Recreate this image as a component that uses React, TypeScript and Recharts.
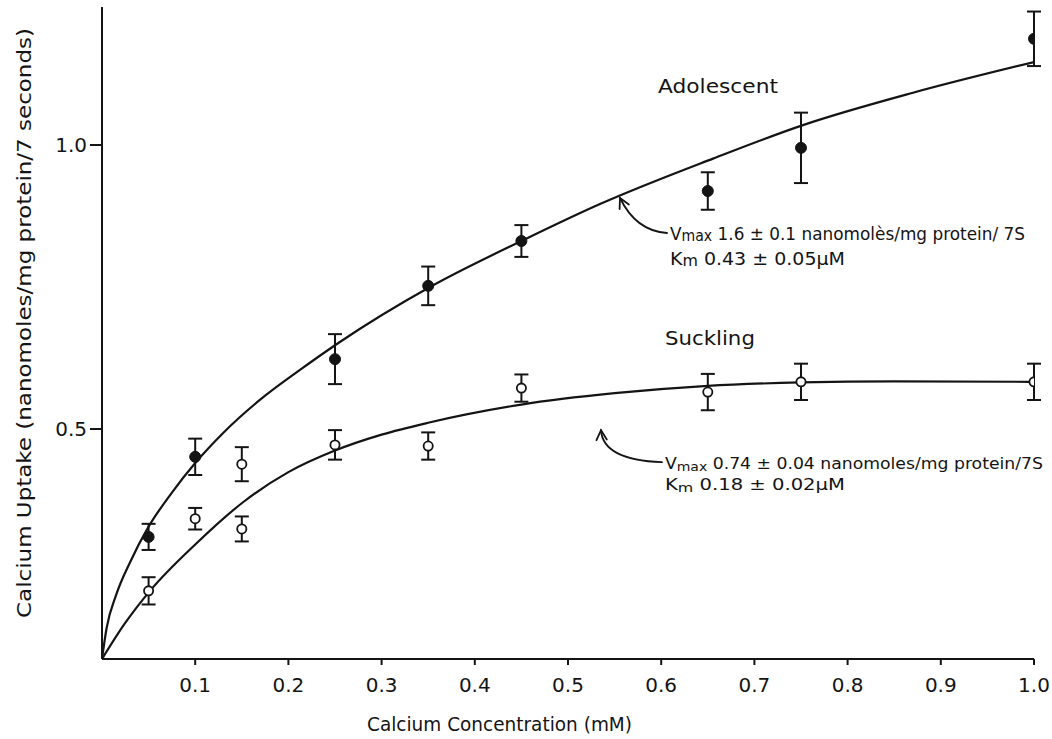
import React from 'react';
import { ComposedChart, Line, Scatter, XAxis, YAxis, ErrorBar, ReferenceDot } from 'recharts';

// ---- data ----
const xTicks = [0.1, 0.2, 0.3, 0.4, 0.5, 0.6, 0.7, 0.8, 0.9, 1.0];
const yTicks = [0.5, 1.0];

const adolescentX = [0.05, 0.1, 0.25, 0.35, 0.45, 0.65, 0.75, 1.0];
const adolescentY = [0.31, 0.451, 0.623, 0.752, 0.831, 0.919, 0.995, 1.187];
const adolescentErr = [0.023, 0.032, 0.044, 0.034, 0.028, 0.033, 0.062, 0.048];

const sucklingX = [0.05, 0.1, 0.15, 0.15, 0.25, 0.35, 0.45, 0.65, 0.75, 1.0];
const sucklingY = [0.215, 0.342, 0.438, 0.324, 0.472, 0.47, 0.572, 0.565, 0.583, 0.583];
const sucklingErr = [0.024, 0.019, 0.03, 0.022, 0.026, 0.024, 0.024, 0.032, 0.032, 0.032];

// fitted curves
const adolescentFitX = [0, 0.005, 0.015, 0.03, 0.05, 0.075, 0.1, 0.13, 0.17, 0.2124, 0.2532, 0.3519, 0.4539, 0.5343, 0.6556, 0.7521, 0.8702, 1.0];
const adolescentFitY = [0.095, 0.15, 0.207, 0.265, 0.328, 0.388, 0.44, 0.493, 0.552, 0.604, 0.651, 0.75, 0.834, 0.896, 0.976, 1.035, 1.092, 1.146];

const sucklingFitX = [0, 0.0247, 0.0515, 0.1009, 0.1513, 0.2, 0.25, 0.3, 0.35, 0.45, 0.55, 0.65, 0.75, 0.85, 1.0];
const sucklingFitY = [0.095, 0.158, 0.215, 0.298, 0.371, 0.424, 0.462, 0.49, 0.511, 0.543, 0.563, 0.576, 0.582, 0.584, 0.583];

const X_DOMAIN: [number, number] = [0, 1.0];
const Y_DOMAIN: [number, number] = [0.095, 1.243];

const adolescentData = adolescentX.map((x, i) => ({ x, y: adolescentY[i], err: adolescentErr[i] }));
const sucklingData = sucklingX.map((x, i) => ({ x, y: sucklingY[i], err: sucklingErr[i] }));
const adolescentFit = adolescentFitX.map((x, i) => ({ x, y: adolescentFitY[i] }));
const sucklingFit = sucklingFitX.map((x, i) => ({ x, y: sucklingFitY[i] }));

const INK = '#141414';
const FONT = '"DejaVu Sans", Verdana, sans-serif';

const FilledDot = (p: any) => <circle cx={p.cx} cy={p.cy} r={5.5} fill={INK} stroke={INK} strokeWidth={1} />;
const OpenDot = (p: any) => <circle cx={p.cx} cy={p.cy} r={4.6} fill="#fff" stroke={INK} strokeWidth={1.8} />;

const XTick = (p: any) => (
  <text x={p.x} y={p.y} dy="0.71em" textAnchor="middle" fontSize={20} fontFamily={FONT} fill={INK}>
    {Number(p.payload.value).toFixed(1)}
  </text>
);
const YTick = (p: any) => (
  <text x={p.x} y={p.y} dy="0.36em" textAnchor="end" fontSize={20} fontFamily={FONT} fill={INK}>
    {Number(p.payload.value).toFixed(1)}
  </text>
);

const XLabel = (p: any) => {
  const vb = p.viewBox || { x: 102, y: 659, width: 932, height: 30 };
  return (
    <text x={vb.x + 265} y={vb.y + 65} dominantBaseline="central" fontSize={20} fontFamily={FONT} fill={INK}
      textLength={265} lengthAdjust="spacingAndGlyphs">
      Calcium Concentration (mM)
    </text>
  );
};
const YLabel = (p: any) => {
  const vb = p.viewBox || { x: 42, y: 7, width: 60, height: 652 };
  const cx = vb.x - 18;
  const cy = vb.y + vb.height / 2 - 10;
  return (
    <text x={cx} y={cy} transform={`rotate(-90, ${cx}, ${cy})`} textAnchor="middle" dominantBaseline="central"
      fontSize={20} fontFamily={FONT} fill={INK} textLength={590} lengthAdjust="spacingAndGlyphs">
      Calcium Uptake (nanomoles/mg protein/7 seconds)
    </text>
  );
};

const Arrow = ({ cx, cy, ex, ey, qx, qy }: any) => {
  const len = Math.hypot(qx, qy);
  const ux = qx / len, uy = qy / len;
  const a = (28 * Math.PI) / 180;
  const h = 11;
  const r1x = (ux * Math.cos(a) - uy * Math.sin(a)) * h;
  const r1y = (ux * Math.sin(a) + uy * Math.cos(a)) * h;
  const r2x = (ux * Math.cos(-a) - uy * Math.sin(-a)) * h;
  const r2y = (ux * Math.sin(-a) + uy * Math.cos(-a)) * h;
  return (
    <g fill="none" stroke={INK} strokeWidth={1.8} strokeLinecap="round">
      <path d={`M ${cx + ex} ${cy + ey} Q ${cx + qx} ${cy + qy} ${cx} ${cy}`} />
      <path d={`M ${cx + r1x} ${cy + r1y} L ${cx} ${cy} L ${cx + r2x} ${cy + r2y}`} />
    </g>
  );
};

const Label1 = (text: string, size: number, width: number) => (p: any) => (
  <text x={p.cx} y={p.cy} dominantBaseline="central" fontSize={size} fontFamily={FONT} fill={INK}
    textLength={width} lengthAdjust="spacingAndGlyphs">
    {text}
  </text>
);

const KineticLine = (sym: string, sub: string, rest: string, width: number, size: number) => (p: any) => (
  <text x={p.cx} y={p.cy} dominantBaseline="central" fontSize={size} fontFamily={FONT} fill={INK}
    textLength={width} lengthAdjust="spacingAndGlyphs">
    <tspan>{sym}</tspan>
    <tspan fontSize={size - 3} dy={3}>{sub}</tspan>
    <tspan dy={-3}>{rest}</tspan>
  </text>
);

// annotation anchors in data units
const ADOL_NAME = { x: 0.5966, y: 1.104 };
const SUCK_NAME = { x: 0.604, y: 0.66 };
const ADOL_L1 = { x: 0.6094, y: 0.845 };
const ADOL_L2 = { x: 0.6094, y: 0.801 };
const SUCK_L1 = { x: 0.604, y: 0.4401 };
const SUCK_L2 = { x: 0.604, y: 0.4032 };
const ADOL_TIP = { x: 0.5558, y: 0.9067 };
const SUCK_TIP = { x: 0.5354, y: 0.498 };

export default function App() {
  return (
    <div style={{ position: 'absolute', left: 0, top: 0, width: 1052, height: 739, background: '#fff' }}>
      <ComposedChart width={1052} height={739} margin={{ top: 7, right: 18, bottom: 50, left: 42 }}>
        <XAxis type="number" dataKey="x" domain={X_DOMAIN} ticks={xTicks} allowDataOverflow
          height={30} tickSize={6} tickMargin={13} tick={<XTick />}
          axisLine={{ stroke: INK, strokeWidth: 2 }} tickLine={{ stroke: INK, strokeWidth: 2 }}
          label={<XLabel />} />
        <YAxis type="number" dataKey="y" domain={Y_DOMAIN} ticks={yTicks} allowDataOverflow
          width={60} tickSize={12} tickMargin={3} tick={<YTick />}
          axisLine={{ stroke: INK, strokeWidth: 2 }} tickLine={{ stroke: INK, strokeWidth: 2 }}
          label={<YLabel />} />
        <Line data={adolescentFit} dataKey="y" type="monotone" stroke={INK} strokeWidth={2.2} dot={false}
          activeDot={false} isAnimationActive={false} />
        <Line data={sucklingFit} dataKey="y" type="monotone" stroke={INK} strokeWidth={2.2} dot={false}
          activeDot={false} isAnimationActive={false} />
        <Scatter data={adolescentData} dataKey="y" shape={FilledDot} isAnimationActive={false}>
          <ErrorBar dataKey="err" direction="y" width={7} stroke={INK} strokeWidth={2} isAnimationActive={false} />
        </Scatter>
        <Scatter data={sucklingData} dataKey="y" shape={OpenDot} isAnimationActive={false}>
          <ErrorBar dataKey="err" direction="y" width={7} stroke={INK} strokeWidth={2} isAnimationActive={false} />
        </Scatter>
        <ReferenceDot x={ADOL_NAME.x} y={ADOL_NAME.y} shape={Label1('Adolescent', 20, 120)} />
        <ReferenceDot x={SUCK_NAME.x} y={SUCK_NAME.y} shape={Label1('Suckling', 20, 90)} />
        <ReferenceDot x={ADOL_L1.x} y={ADOL_L1.y}
          shape={KineticLine('V', 'max', ' 1.6 ± 0.1 nanomolès/mg protein/ 7S', 355, 18)} />
        <ReferenceDot x={ADOL_L2.x} y={ADOL_L2.y} shape={KineticLine('K', 'm', ' 0.43 ± 0.05µM', 175, 18)} />
        <ReferenceDot x={SUCK_L1.x} y={SUCK_L1.y}
          shape={KineticLine('V', 'max', ' 0.74 ± 0.04 nanomoles/mg protein/7S', 378, 16)} />
        <ReferenceDot x={SUCK_L2.x} y={SUCK_L2.y} shape={KineticLine('K', 'm', ' 0.18 ± 0.02µM', 180, 16)} />
        <ReferenceDot x={ADOL_TIP.x} y={ADOL_TIP.y}
          shape={(p: any) => <Arrow cx={p.cx} cy={p.cy} ex={47} ey={35} qx={16} qy={33} />} />
        <ReferenceDot x={SUCK_TIP.x} y={SUCK_TIP.y}
          shape={(p: any) => <Arrow cx={p.cx} cy={p.cy} ex={61} ey={32} qx={2} qy={30} />} />
      </ComposedChart>
    </div>
  );
}
